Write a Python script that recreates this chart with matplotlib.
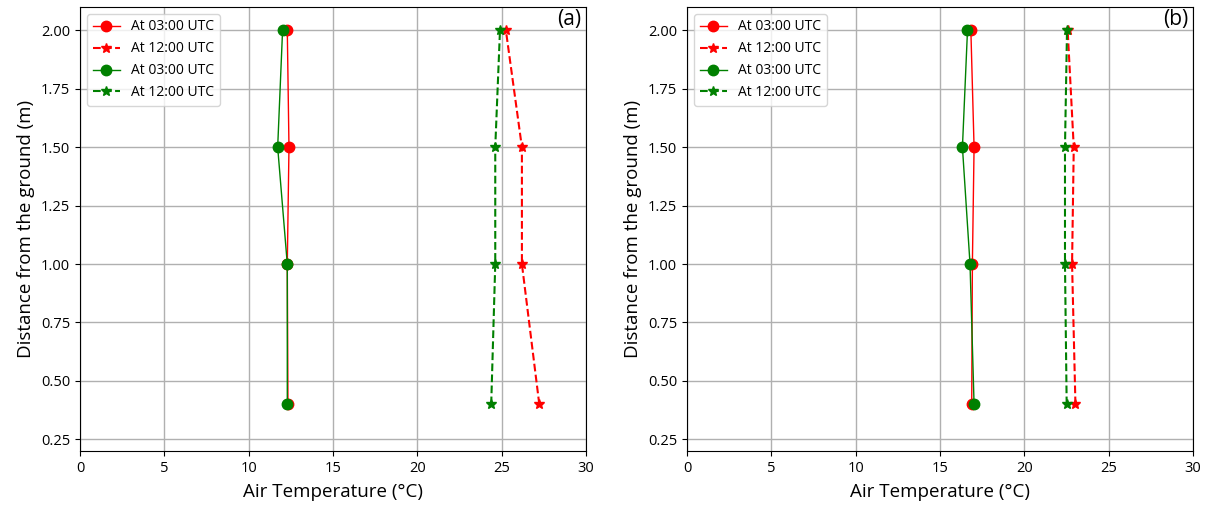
import numpy as np
import matplotlib
matplotlib.use("Agg")
import matplotlib.pyplot as plt

plt.rcParams['font.family'] = ['Open Sans', 'DejaVu Sans']

heights = [0.4, 1.0, 1.5, 2.0]

# panel (a)
a_red_03 = [12.33, 12.29, 12.39, 12.29]
a_red_12 = [27.23, 26.2, 26.2, 25.25]
a_green_03 = [12.29, 12.29, 11.72, 12.01]
a_green_12 = [24.38, 24.62, 24.62, 24.9]

# panel (b)
b_red_03 = [16.88, 16.92, 17.02, 16.83]
b_red_12 = [23.03, 22.83, 22.93, 22.57]
b_green_03 = [17.02, 16.78, 16.33, 16.63]
b_green_12 = [22.51, 22.41, 22.41, 22.53]

panels = [
    ("(a)", a_red_03, a_red_12, a_green_03, a_green_12),
    ("(b)", b_red_03, b_red_12, b_green_03, b_green_12),
]

fig = plt.figure(figsize=(12.06, 5.08), dpi=100)
lefts = [80 / 1206, 687 / 1206]
width = 506 / 1206
bottom = 1 - 451 / 508
height = (451 - 7) / 508

for left, (tag, r03, r12, g03, g12) in zip(lefts, panels):
    ax = fig.add_axes([left, bottom, width, height])
    ax.plot(r03, heights, 'o-', color='red', lw=1, ms=7.5, label='At 03:00 UTC')
    ax.plot(r12, heights, '*--', color='red', lw=1.5, ms=7.5, label='At 12:00 UTC')
    ax.plot(g03, heights, 'o-', color='green', lw=1, ms=7.5, label='At 03:00 UTC')
    ax.plot(g12, heights, '*--', color='green', lw=1.5, ms=7.5, label='At 12:00 UTC')
    ax.set_xlim(0, 30)
    ax.set_ylim(0.2, 2.1)
    ax.set_yticks(np.arange(0.25, 2.01, 0.25))
    ax.grid(True, color='#b0b0b0', lw=1)
    ax.tick_params(labelsize=10.5)
    ax.set_xlabel('Air Temperature (°C)', fontsize=13.5, labelpad=5)
    ax.set_ylabel('Distance from the ground (m)', fontsize=13.5)
    ax.text(0.99, 0.995, tag, transform=ax.transAxes, ha='right', va='top', fontsize=15)
    ax.legend(loc='upper left', fontsize=10)

fig.savefig('out.png', dpi=100)
